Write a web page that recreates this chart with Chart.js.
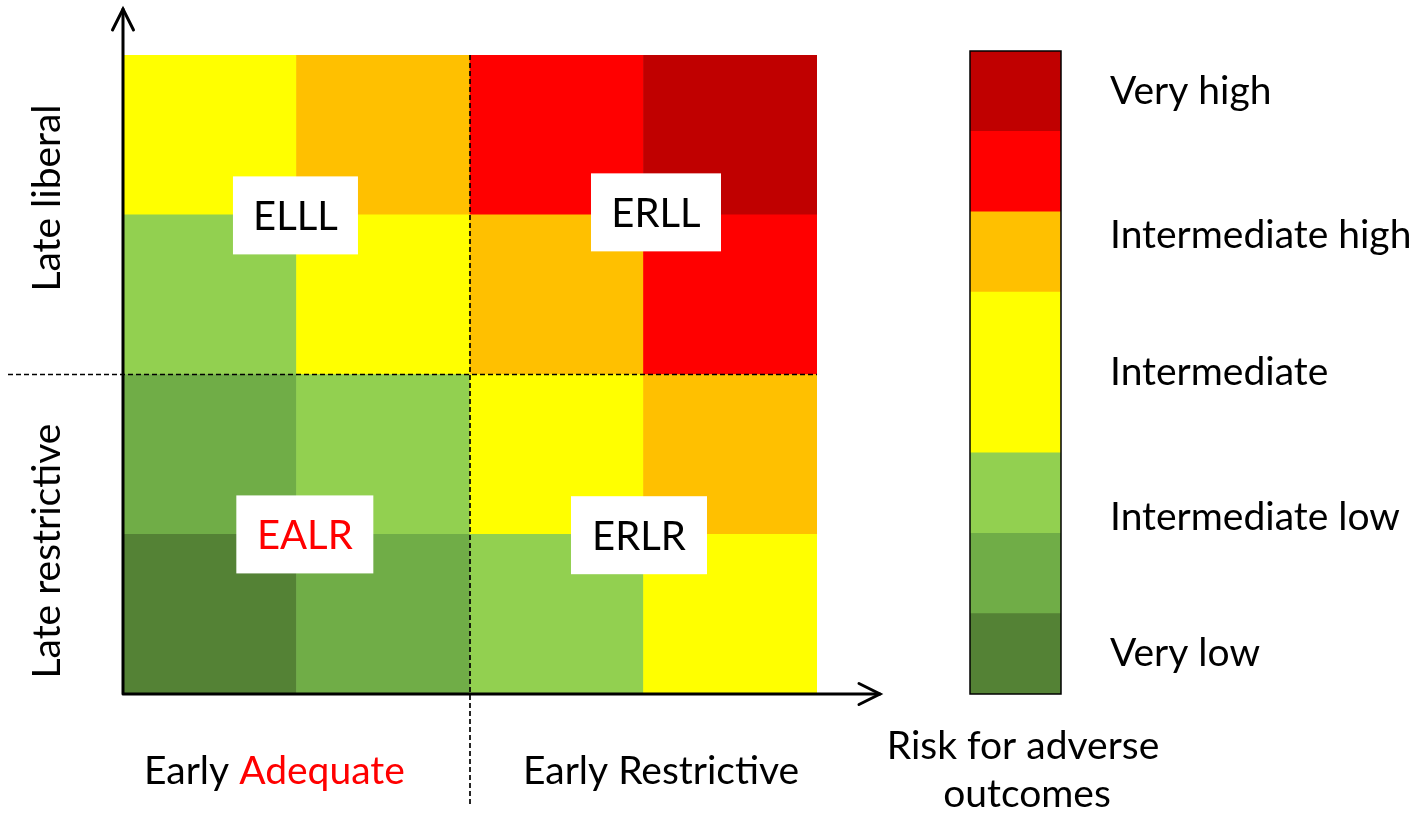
<!DOCTYPE html>
<html>
<head>
<meta charset="utf-8">
<script src="https://cdn.jsdelivr.net/npm/chart.js@4"></script>
<style>
    body { margin: 0; background: #fff; }
    .wrap { position: relative; width: 1422px; height: 813px; }
    .wrap canvas { position: absolute; left: 0; top: 0; }
</style>
</head>
<body>
<div class="wrap">
    <canvas id="gridChart" width="1422" height="813"></canvas>
    <canvas id="scaleChart" width="1422" height="813"></canvas>
</div>
<script>
// early strategy split into two sub-levels each (left to right)
const columns = ['Adequate 1', 'Adequate 2', 'Restrictive 1', 'Restrictive 2'];
// late strategy rows, bottom to top
const rows = ['Restrictive 1', 'Restrictive 2', 'Liberal 1', 'Liberal 2'];

// risk level of each cell, 1 = very low ... 7 = very high (rows bottom to top)
const riskBottom = [1, 2, 3, 4];
const riskLow = [2, 3, 4, 5];
const riskHigh = [3, 4, 5, 6];
const riskTop = [4, 5, 6, 7];
const riskRows = [riskBottom, riskLow, riskHigh, riskTop];

const riskColors = ['#548235', '#70AD47', '#92D050', '#FFFF00', '#FFC000', '#FF0000', '#C00000'];

// colour key: height of each band, and where its labels sit
const bandHeights = [1, 1, 1, 2, 1, 1, 1];
const keyLabels = ['Very low', 'Intermediate low', 'Intermediate', 'Intermediate high', 'Very high'];
const keyLabelValues = [0.5, 2.2, 4, 5.7, 7.5];

const quadrantNames = ['ELLL', 'ERLL', 'EALR', 'ERLR'];

const FONT = 'Lato, "Open Sans", sans-serif';
const TEXT_SIZE = 39;

function arrowHead(ctx, x, y, dx, dy) {
    // open chevron pointing along (dx, dy)
    const len = 21, half = 10.5;
    const px = -dy, py = dx;
    ctx.beginPath();
    ctx.moveTo(x - dx * len + px * half, y - dy * len + py * half);
    ctx.lineTo(x, y);
    ctx.lineTo(x - dx * len - px * half, y - dy * len - py * half);
    ctx.stroke();
}

const gridDecor = {
    id: 'gridDecor',
    afterDraw(chart) {
        const { ctx, chartArea: a, scales: { x, y } } = chart;
        ctx.save();

        // quadrant separators
        ctx.strokeStyle = '#000';
        ctx.lineWidth = 1.7;
        ctx.setLineDash([5, 3]);
        const midX = x.getPixelForValue(1.5);
        const midY = y.getPixelForValue(2);
        ctx.beginPath();
        ctx.moveTo(midX, a.top);
        ctx.lineTo(midX, 806);
        ctx.moveTo(8, midY);
        ctx.lineTo(a.right, midY);
        ctx.stroke();
        ctx.setLineDash([]);

        // axes with arrows
        ctx.lineWidth = 3;
        ctx.lineCap = 'round';
        ctx.lineJoin = 'miter';
        ctx.beginPath();
        ctx.moveTo(a.left, a.bottom);
        ctx.lineTo(a.left, 9);
        ctx.moveTo(a.left, a.bottom);
        ctx.lineTo(880, a.bottom);
        ctx.stroke();
        arrowHead(ctx, a.left, 9, 0, -1);
        arrowHead(ctx, 880, a.bottom, 1, 0);

        // quadrant name boxes
        const boxes = [
            { text: quadrantNames[0], cx: 0.494, cy: 2.996, w: 125, color: '#000' },
            { text: quadrantNames[1], cx: 2.572, cy: 3.015, w: 130, color: '#000' },
            { text: quadrantNames[2], cx: 0.548, cy: 0.999, w: 137, color: '#FF0000' },
            { text: quadrantNames[3], cx: 2.474, cy: 0.994, w: 136, color: '#000' }
        ];
        ctx.font = `40px ${FONT}`;
        ctx.textAlign = 'center';
        ctx.textBaseline = 'alphabetic';
        boxes.forEach(b => {
            const px = x.getPixelForValue(b.cx);
            const py = y.getPixelForValue(b.cy);
            ctx.fillStyle = '#fff';
            ctx.fillRect(px - b.w / 2, py - 39, b.w, 78);
            ctx.fillStyle = b.color;
            ctx.fillText(b.text, px, py + 15);
        });

        // axis titles
        ctx.font = `${TEXT_SIZE}px ${FONT}`;
        ctx.fillStyle = '#000';
        ctx.textAlign = 'left';
        ctx.fillText('Early ', 144, 784);
        const ew = ctx.measureText('Early ').width;
        ctx.fillStyle = '#FF0000';
        ctx.fillText('Adequate', 144 + ew, 784);
        ctx.fillStyle = '#000';
        ctx.fillText('Early Restrictive', 523, 784);

        ctx.textAlign = 'center';
        [['Late liberal', 198], ['Late restrictive', 551]].forEach(([t, cy]) => {
            ctx.save();
            ctx.translate(60, cy);
            ctx.rotate(-Math.PI / 2);
            ctx.fillText(t, 0, 0);
            ctx.restore();
        });

        ctx.restore();
    }
};

new Chart(document.getElementById('gridChart'), {
    type: 'bar',
    data: {
        labels: columns,
        datasets: riskRows.map((levels, r) => ({
            label: rows[r],
            data: columns.map(() => 1),
            backgroundColor: levels.map(l => riskColors[l - 1]),
            borderWidth: 0,
            barPercentage: 1,
            categoryPercentage: 1
        }))
    },
    options: {
        responsive: false,
        animation: false,
        layout: { padding: { left: 123, right: 605, top: 55, bottom: 119 } },
        plugins: { legend: { display: false }, tooltip: { enabled: false } },
        scales: {
            x: { stacked: true, display: false },
            y: { stacked: true, display: false, min: 0, max: 4 }
        }
    },
    plugins: [gridDecor]
});

const keyDecor = {
    id: 'keyDecor',
    afterDraw(chart) {
        const { ctx, chartArea: a } = chart;
        ctx.save();
        ctx.strokeStyle = '#000';
        ctx.lineWidth = 1.5;
        ctx.strokeRect(a.left, a.top, a.right - a.left, a.bottom - a.top);

        ctx.font = `${TEXT_SIZE}px ${FONT}`;
        ctx.fillStyle = '#000';
        ctx.textAlign = 'center';
        ctx.fillText('Risk for adverse', 1023, 759);
        ctx.fillText('outcomes', 1027, 807);
        ctx.restore();
    }
};

new Chart(document.getElementById('scaleChart'), {
    type: 'bar',
    data: {
        labels: ['Risk'],
        datasets: bandHeights.map((h, i) => ({
            data: [h],
            backgroundColor: riskColors[i],
            borderWidth: 0,
            barPercentage: 1,
            categoryPercentage: 1
        }))
    },
    options: {
        responsive: false,
        animation: false,
        layout: { padding: { left: 970, right: 0, top: 51, bottom: 119 } },
        plugins: { legend: { display: false }, tooltip: { enabled: false } },
        scales: {
            x: { stacked: true, display: false },
            y: {
                stacked: true,
                position: 'right',
                min: 0,
                max: 8,
                afterBuildTicks: scale => {
                    scale.ticks = keyLabelValues.map(v => ({ value: v }));
                },
                afterFit: scale => {
                    scale.width = 361;
                    scale.paddingTop = 0;
                    scale.paddingBottom = 0;
                },
                grid: { display: false, drawTicks: false },
                border: { display: false },
                ticks: {
                    padding: 49,
                    color: '#000',
                    font: { family: FONT, size: TEXT_SIZE },
                    callback: (value, index) => keyLabels[index]
                }
            }
        }
    },
    plugins: [keyDecor]
});
</script>
</body>
</html>
